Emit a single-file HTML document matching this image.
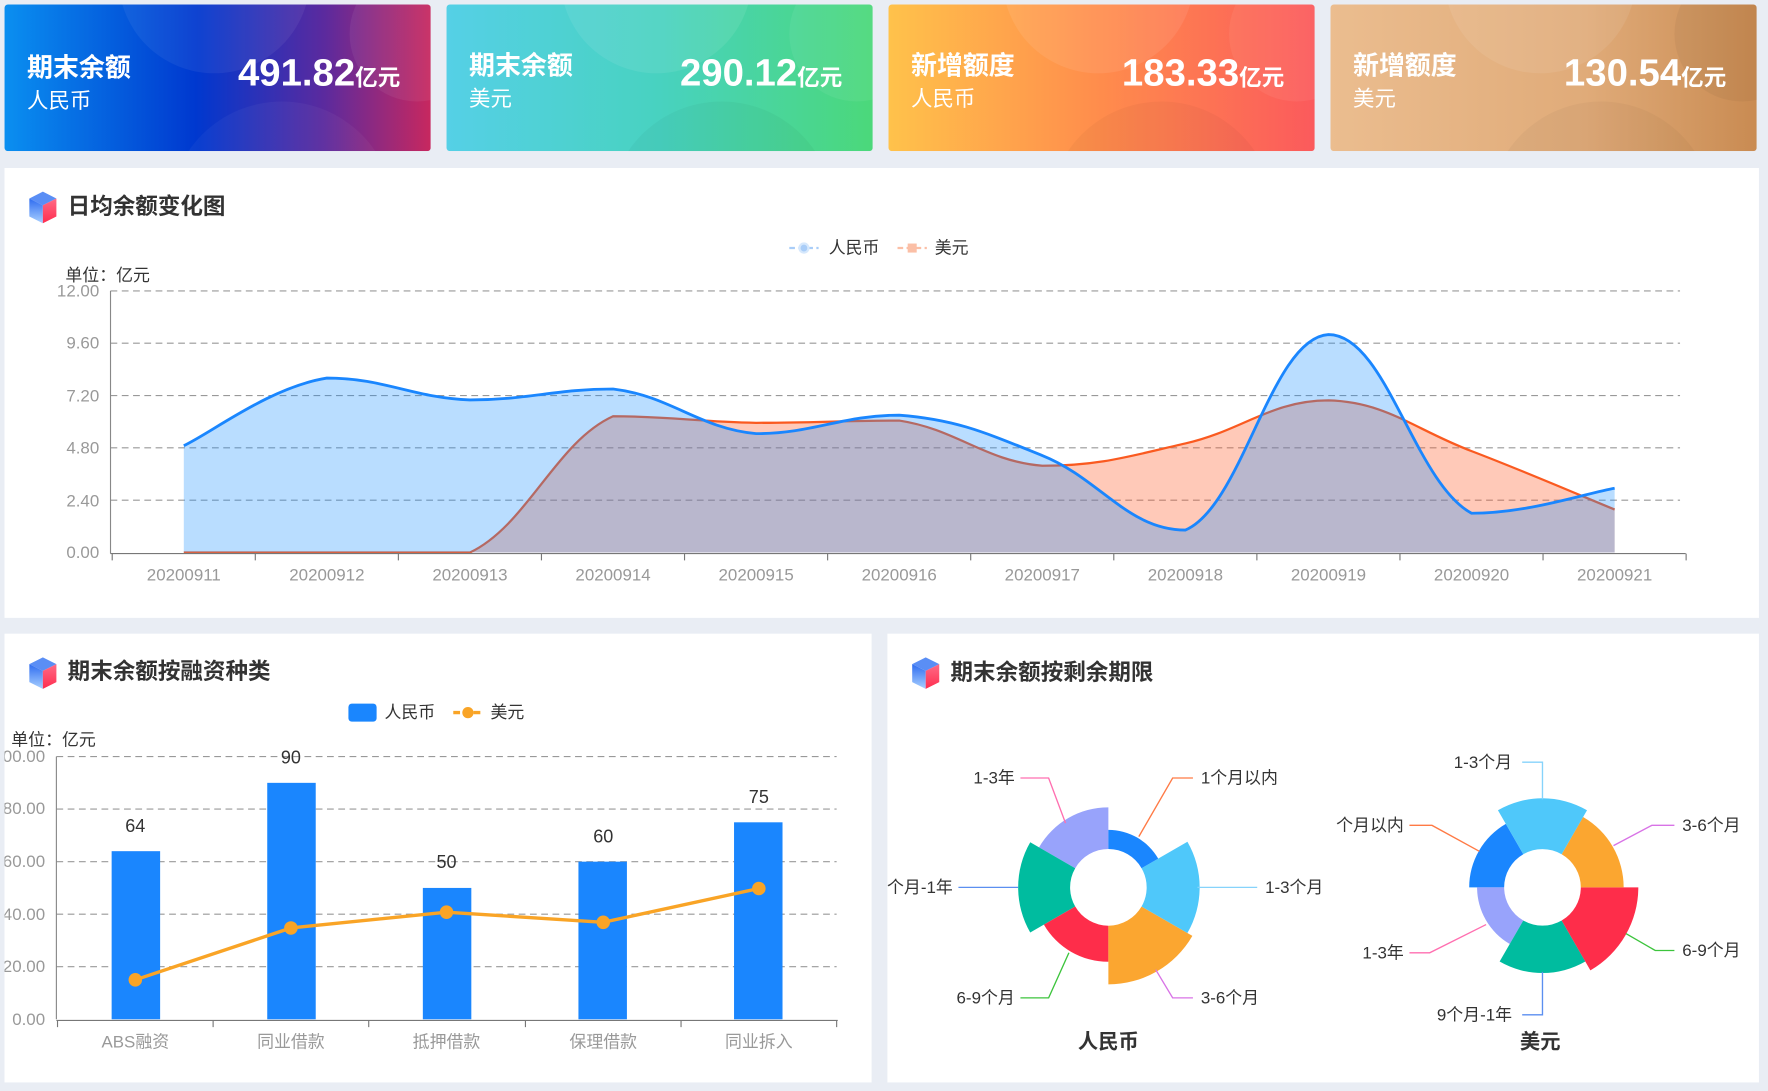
<!DOCTYPE html>
<html><head><meta charset="utf-8">
<style>
html,body{margin:0;padding:0;background:#e9edf4;}
svg{display:block;font-family:"Liberation Sans","Noto Sans CJK SC",sans-serif;}
</style></head>
<body>
<svg id="s" width="1768" height="1091" viewBox="0 0 1568 967.6" xmlns="http://www.w3.org/2000/svg">
<defs>
<linearGradient id="g1" x1="0" x2="1"><stop offset="0" stop-color="#0a8ff0"/><stop offset="0.45" stop-color="#0038cf"/><stop offset="0.75" stop-color="#5b2a9e"/><stop offset="1" stop-color="#c7285f"/></linearGradient>
<linearGradient id="g2" x1="0" x2="1"><stop offset="0" stop-color="#55d0e6"/><stop offset="0.5" stop-color="#48d2c0"/><stop offset="1" stop-color="#4bd87a"/></linearGradient>
<linearGradient id="g3" x1="0" x2="1"><stop offset="0" stop-color="#ffc24b"/><stop offset="0.5" stop-color="#ff8c4c"/><stop offset="1" stop-color="#fb5a5c"/></linearGradient>
<linearGradient id="g4" x1="0" x2="1"><stop offset="0" stop-color="#ebbd8f"/><stop offset="0.6" stop-color="#e0ab79"/><stop offset="1" stop-color="#c98b52"/></linearGradient>
<linearGradient id="cubeL" x1="0" y1="0" x2="0" y2="1"><stop offset="0" stop-color="#2e6cf0"/><stop offset="1" stop-color="#a9d0ff"/></linearGradient>
<linearGradient id="cubeR" x1="0" y1="0" x2="0" y2="1"><stop offset="0" stop-color="#ff6b86"/><stop offset="1" stop-color="#ff2d4f"/></linearGradient>
<clipPath id="c1"><rect x="4" y="4" width="378" height="130" rx="3"/></clipPath>
<clipPath id="c2"><rect x="396" y="4" width="378" height="130" rx="3"/></clipPath>
<clipPath id="c3"><rect x="788" y="4" width="378" height="130" rx="3"/></clipPath>
<clipPath id="c4"><rect x="1180" y="4" width="378" height="130" rx="3"/></clipPath>
<clipPath id="pl"><rect x="4" y="562" width="769" height="398"/></clipPath>
<clipPath id="pr"><rect x="787" y="562" width="773" height="398"/></clipPath>
<g id="cube">
<polygon points="0,-14 12,-8 0,-2 -12,-8" fill="#5a8ef5"/>
<polygon points="-12,-8 0,-2 0,14 -12,8" fill="url(#cubeL)"/>
<polygon points="12,-8 0,-2 0,14 12,8" fill="url(#cubeR)"/>
</g>
</defs>
<rect width="1568" height="968" fill="#e9edf4"/>
<!-- cards -->
<g clip-path="url(#c1)"><rect x="4" y="4" width="378" height="130" fill="url(#g1)"/><circle cx="190" cy="-20" r="85" fill="#fff" opacity="0.06"/><circle cx="370" cy="30" r="60" fill="#fff" opacity="0.06"/><circle cx="250" cy="190" r="100" fill="#fff" opacity="0.04"/></g>
<g clip-path="url(#c2)"><rect x="396" y="4" width="378" height="130" fill="url(#g2)"/><circle cx="582" cy="-20" r="85" fill="#fff" opacity="0.08"/><circle cx="760" cy="30" r="60" fill="#fff" opacity="0.06"/><circle cx="640" cy="190" r="100" fill="#000" opacity="0.03"/></g>
<g clip-path="url(#c3)"><rect x="788" y="4" width="378" height="130" fill="url(#g3)"/><circle cx="974" cy="-20" r="85" fill="#fff" opacity="0.08"/><circle cx="1150" cy="30" r="60" fill="#fff" opacity="0.06"/><circle cx="1030" cy="190" r="100" fill="#000" opacity="0.03"/></g>
<g clip-path="url(#c4)"><rect x="1180" y="4" width="378" height="130" fill="url(#g4)"/><circle cx="1366" cy="-20" r="85" fill="#fff" opacity="0.08"/><circle cx="1545" cy="30" r="60" fill="#000" opacity="0.04"/><circle cx="1420" cy="190" r="100" fill="#000" opacity="0.03"/></g>
<g fill="#fff">
<text x="24" y="68" font-size="23" font-weight="bold">期末余额</text><text x="24" y="96" font-size="19">人民币</text>
<text x="355" y="76" font-size="34" font-weight="bold" text-anchor="end">491.82<tspan font-size="20">亿元</tspan></text>
<text x="416" y="66" font-size="23" font-weight="bold">期末余额</text><text x="416" y="94" font-size="19">美元</text>
<text x="747" y="76" font-size="34" font-weight="bold" text-anchor="end">290.12<tspan font-size="20">亿元</tspan></text>
<text x="808" y="66" font-size="23" font-weight="bold">新增额度</text><text x="808" y="94" font-size="19">人民币</text>
<text x="1139" y="76" font-size="34" font-weight="bold" text-anchor="end">183.33<tspan font-size="20">亿元</tspan></text>
<text x="1200" y="66" font-size="23" font-weight="bold">新增额度</text><text x="1200" y="94" font-size="19">美元</text>
<text x="1531" y="76" font-size="34" font-weight="bold" text-anchor="end">130.54<tspan font-size="20">亿元</tspan></text>
</g>
<!-- panels -->
<rect x="4" y="149" width="1556" height="399" fill="#fff"/>
<rect x="4" y="562" width="769" height="398" fill="#fff"/>
<rect x="787" y="562" width="773" height="398" fill="#fff"/>
<use href="#cube" x="38" y="184"/>
<text x="60" y="190" font-size="20" font-weight="bold" fill="#333">日均余额变化图</text>
<use href="#cube" x="38" y="597"/>
<text x="60" y="602" font-size="20" font-weight="bold" fill="#333">期末余额按融资种类</text>
<use href="#cube" x="821" y="597"/>
<text x="843" y="603" font-size="20" font-weight="bold" fill="#333">期末余额按剩余期限</text>

<!-- line chart -->
<g id="lc">
<line x1="700" y1="220" x2="726" y2="220" stroke="#a9cdf8" stroke-width="2" stroke-dasharray="5,3"/><circle cx="713" cy="220" r="4" fill="#a9cdf8" stroke="#d6e8fc" stroke-width="2"/>
<text x="735" y="225" font-size="15" fill="#333">人民币</text>
<line x1="796" y1="220" x2="822" y2="220" stroke="#fbbfa6" stroke-width="2" stroke-dasharray="5,3"/><rect x="805" y="216" width="8" height="8" fill="#fbbfa6"/>
<text x="829" y="225" font-size="15" fill="#333">美元</text>
<text x="58" y="249" font-size="15" fill="#333">单位：亿元</text>
<g stroke="#999" stroke-dasharray="6,4" stroke-width="1">
<line x1="98" y1="258" x2="1490" y2="258"/><line x1="98" y1="304.4" x2="1490" y2="304.4"/><line x1="98" y1="350.8" x2="1490" y2="350.8"/><line x1="98" y1="397.2" x2="1490" y2="397.2"/><line x1="98" y1="443.6" x2="1490" y2="443.6"/>
</g>
<g font-size="15" fill="#999" text-anchor="end">
<text x="88" y="263">12.00</text><text x="88" y="309">9.60</text><text x="88" y="356">7.20</text><text x="88" y="402">4.80</text><text x="88" y="449">2.40</text><text x="88" y="495">0.00</text>
</g>
<line x1="98" y1="258" x2="98" y2="491" stroke="#888"/>
<path id="usdA" fill="rgba(255,87,34,0.32)"/>
<path id="usdL" fill="none" stroke="#fa5a20" stroke-width="2"/>
<path id="rmbA" fill="rgba(24,144,255,0.3)"/>
<path id="rmbL" fill="none" stroke="#1a86fe" stroke-width="2.5"/>
<line x1="98" y1="491" x2="1495" y2="491" stroke="#777"/>
<g id="xt"></g>
</g>

<!-- bar chart -->
<g clip-path="url(#pl)">
<rect x="309" y="624" width="25" height="16" rx="3" fill="#1a86fe"/>
<text x="341" y="637" font-size="15" fill="#333">人民币</text>
<line x1="402" y1="632" x2="428" y2="632" stroke="#f9a426" stroke-width="3" stroke-dasharray="6,3"/><circle cx="415" cy="632" r="5" fill="#f9a426"/>
<text x="435" y="637" font-size="15" fill="#333">美元</text>
<text x="10" y="661" font-size="15" fill="#333">单位：亿元</text>
<g stroke="#999" stroke-dasharray="6,4">
<line x1="50" y1="671" x2="742" y2="671"/><line x1="50" y1="717.6" x2="742" y2="717.6"/><line x1="50" y1="764.2" x2="742" y2="764.2"/><line x1="50" y1="810.8" x2="742" y2="810.8"/><line x1="50" y1="857.4" x2="742" y2="857.4"/>
</g>
<g font-size="15" fill="#999" text-anchor="end">
<text x="40" y="676">100.00</text><text x="40" y="722">80.00</text><text x="40" y="769">60.00</text><text x="40" y="816">40.00</text><text x="40" y="862">20.00</text><text x="40" y="909">0.00</text>
</g>
<line x1="50" y1="671" x2="50" y2="904" stroke="#888"/>
<g fill="#1a86fe">
<rect x="99" y="754.9" width="43" height="149.1"/><rect x="237" y="694.3" width="43" height="209.7"/><rect x="375" y="787.5" width="43" height="116.5"/><rect x="513" y="764.2" width="43" height="139.8"/><rect x="651" y="729.3" width="43" height="174.7"/>
</g>
<g font-size="16" fill="#333" text-anchor="middle">
<text x="120" y="738">64</text><text x="258" y="677">90</text><text x="396" y="770">50</text><text x="535" y="747">60</text><text x="673" y="712">75</text>
</g>
<polyline points="120,869 258,823 396,809 535,818 673,788" fill="none" stroke="#f9a426" stroke-width="3"/>
<g fill="#f9a426"><circle cx="120" cy="869" r="6"/><circle cx="258" cy="823" r="6"/><circle cx="396" cy="809" r="6"/><circle cx="535" cy="818" r="6"/><circle cx="673" cy="788" r="6"/></g>
<line x1="50" y1="905" x2="743" y2="905" stroke="#777"/>
<g stroke="#777"><line x1="51" y1="905" x2="51" y2="911"/><line x1="189" y1="905" x2="189" y2="911"/><line x1="327" y1="905" x2="327" y2="911"/><line x1="466" y1="905" x2="466" y2="911"/><line x1="604" y1="905" x2="604" y2="911"/><line x1="742" y1="905" x2="742" y2="911"/></g>
<g font-size="15" fill="#999" text-anchor="middle">
<text x="120" y="929">ABS融资</text><text x="258" y="929">同业借款</text><text x="396" y="929">抵押借款</text><text x="535" y="929">保理借款</text><text x="673" y="929">同业拆入</text>
</g>
</g>

<!-- roses -->
<g clip-path="url(#pr)" id="roses" font-size="15" fill="#333">
<text x="983" y="930" font-size="18" font-weight="bold" text-anchor="middle">人民币</text>
<text x="1366" y="930" font-size="18" font-weight="bold" text-anchor="middle">美元</text>
<g fill="none" stroke-width="1.2">
<polyline points="1010,742 1040,690 1058,690" stroke="#ff7a45"/>
<polyline points="1062,787 1115,787" stroke="#86d3fb"/>
<polyline points="1025,860 1040,885 1058,885" stroke="#d873e6"/>
<polyline points="948,845 930,885 905,885" stroke="#3cc43c"/>
<polyline points="903,787 850,787" stroke="#5b8ff0"/>
<polyline points="945,730 930,690 905,690" stroke="#ff6fb0"/>
<polyline points="1368,709 1368,676 1350,676" stroke="#86d3fb"/>
<polyline points="1431,750 1465,732 1485,732" stroke="#d873e6"/>
<polyline points="1442,828 1468,843 1485,843" stroke="#3cc43c"/>
<polyline points="1368,862 1368,900 1350,900" stroke="#5b8ff0"/>
<polyline points="1318,820 1268,845 1250,845" stroke="#ff6fb0"/>
<polyline points="1312,755 1270,732 1250,732" stroke="#ff7a45"/>
</g>
<text x="1065" y="695">1个月以内</text>
<text x="1122" y="792">1-3个月</text>
<text x="1065" y="890">3-6个月</text>
<text x="900" y="890" text-anchor="end">6-9个月</text>
<text x="845" y="792" text-anchor="end">9个月-1年</text>
<text x="900" y="695" text-anchor="end">1-3年</text>
<text x="1341" y="681" text-anchor="end">1-3个月</text>
<text x="1492" y="737">3-6个月</text>
<text x="1492" y="848">6-9个月</text>
<text x="1341" y="905" text-anchor="end">9个月-1年</text>
<text x="1245" y="850" text-anchor="end">1-3年</text>
<text x="1245" y="737" text-anchor="end">个月以内</text>
</g>
</svg>
<script>
(function(){
var NS="http://www.w3.org/2000/svg";
function Y(v){return 490-v/2.4*46.4;}
function X(i){return 163+126.9*i;}
var rmb=[4.9,8.0,7.0,7.5,5.45,6.3,4.45,1.03,10.0,1.8,2.95];
var usd=[0,0,0,6.25,5.95,6.05,3.98,5.0,6.98,4.65,1.97];
function pts(a){return a.map(function(v,i){return [X(i),Y(v)];});}
function smooth(p){
 var s=0.2,d="M"+p[0][0]+","+p[0][1];
 for(var i=0;i<p.length-1;i++){
  var p0=p[i-1]||p[i],p1=p[i],p2=p[i+1],p3=p[i+2]||p2;
  var c1x=p1[0]+(p2[0]-p0[0])*s,c1y=p1[1]+(p2[1]-p0[1])*s;
  var c2x=p2[0]-(p3[0]-p1[0])*s,c2y=p2[1]-(p3[1]-p1[1])*s;
  var lo=Math.min(p1[1],p2[1]),hi=Math.max(p1[1],p2[1]);
  c1y=Math.max(lo,Math.min(hi,c1y));c2y=Math.max(lo,Math.min(hi,c2y));
  d+=" C"+c1x.toFixed(1)+","+c1y.toFixed(1)+" "+c2x.toFixed(1)+","+c2y.toFixed(1)+" "+p2[0].toFixed(1)+","+p2[1].toFixed(1);
 }
 return d;
}
var r=smooth(pts(rmb)),u=smooth(pts(usd));
var x0=X(0),x1=X(10);
document.getElementById("rmbL").setAttribute("d",r);
document.getElementById("rmbA").setAttribute("d",r+" L"+x1+",490 L"+x0+",490 Z");
document.getElementById("usdL").setAttribute("d",u);
document.getElementById("usdA").setAttribute("d",u+" L"+x1+",490 L"+x0+",490 Z");
var xt=document.getElementById("xt");
for(var i=0;i<=11;i++){var l=document.createElementNS(NS,"line");var xx=99.5+126.9*i;l.setAttribute("x1",xx);l.setAttribute("x2",xx);l.setAttribute("y1",491);l.setAttribute("y2",497);l.setAttribute("stroke","#777");xt.appendChild(l);}
for(var i=0;i<11;i++){var t=document.createElementNS(NS,"text");t.setAttribute("x",X(i));t.setAttribute("y",515);t.setAttribute("font-size","15");t.setAttribute("fill","#999");t.setAttribute("text-anchor","middle");t.textContent="202009"+(11+i);xt.appendChild(t);}
// roses
var roses=document.getElementById("roses");
var cols=["#1a86fe","#4fc8fa","#fba630","#fe2d4a","#00bc9f","#98a3fb"];
function rose(cx,cy,start,radii,colors){
 var ri=34;
 for(var k=0;k<6;k++){
  var a0=(start+60*k)*Math.PI/180,a1=(start+60*(k+1))*Math.PI/180,R=radii[k];
  function P(rr,a){return (cx+rr*Math.sin(a)).toFixed(1)+","+(cy-rr*Math.cos(a)).toFixed(1);}
  var d="M"+P(ri,a0)+" L"+P(R,a0)+" A"+R+","+R+" 0 0 1 "+P(R,a1)+" L"+P(ri,a1)+" A"+ri+","+ri+" 0 0 0 "+P(ri,a0)+" Z";
  var pa=document.createElementNS(NS,"path");pa.setAttribute("d",d);pa.setAttribute("fill",colors[k]);
  roses.insertBefore(pa,roses.firstChild);
 }
}
rose(983,787,0,[51,81,86,66,80,71],cols);
rose(1368,787,-30,[79,72,85,76,58,65],["#4fc8fa","#fba630","#fe2d4a","#00bc9f","#98a3fb","#1a86fe"]);
})();
</script>
</body></html>
